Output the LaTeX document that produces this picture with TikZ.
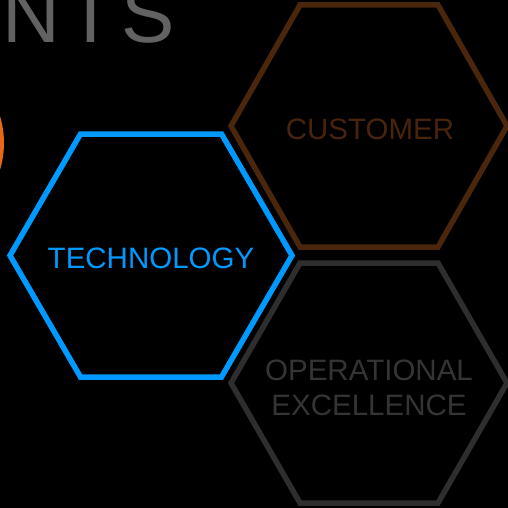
\documentclass[tikz,border=0pt]{standalone}
\usepackage{fontspec}
\setmainfont{Liberation Sans}
\usetikzlibrary{calc}
\definecolor{techblue}{RGB}{0,153,255}
\definecolor{custbrown}{RGB}{74,38,12}
\definecolor{custtext}{RGB}{72,36,12}
\definecolor{opgray}{RGB}{46,46,46}
\definecolor{optext}{RGB}{52,52,52}
\definecolor{titlegray}{RGB}{98,98,98}
\definecolor{accentorange}{RGB}{232,104,24}
\newcommand\hexagonpath[3]{($(#1)+(-#2,0)$) -- ($(#1)+({-#2/2},-#3)$) -- ($(#1)+({#2/2},-#3)$) -- ($(#1)+(#2,0)$) -- ($(#1)+({#2/2},#3)$) -- ($(#1)+({-#2/2},#3)$) -- cycle}
\begin{document}
\begin{tikzpicture}[x=1pt,y=-1pt,
  hexline/.style={line width=5.5pt, line join=miter},
  hexlabel/.style={font=\fontsize{29.5}{35}\selectfont, align=center, inner sep=0pt}]
\fill[black] (0,0) rectangle (508,508);
\useasboundingbox (0,0) rectangle (508,508);
\clip (0,0) rectangle (508,508);
% title fragment
\node[anchor=base west, inner sep=0pt, text=titlegray, font=\fontsize{80}{80}\selectfont\addfontfeature{LetterSpace=8}] (title) at (2,43) {NTS};
% orange shape at left edge
\coordinate (orangec) at (-88,143);
\draw[accentorange, line width=4pt] (orangec) circle[radius=90];
% hexagon centres
\coordinate (techc) at (151,255.5);
\coordinate (custc) at (369,126);
\coordinate (opc) at (369,383);
\draw[hexline, techblue] \hexagonpath{techc}{141}{121.5};
\draw[hexline, custbrown] \hexagonpath{custc}{138}{121};
\draw[hexline, opgray] \hexagonpath{opc}{138}{120};
\node[hexlabel, text=techblue] (tech) at (151,258) {TECHNOLOGY};
\node[hexlabel, text=custtext] (cust) at (370,129) {CUSTOMER};
\node[hexlabel, text=optext] (op) at (369,388) {OPERATIONAL\\EXCELLENCE};
\end{tikzpicture}
\end{document}
